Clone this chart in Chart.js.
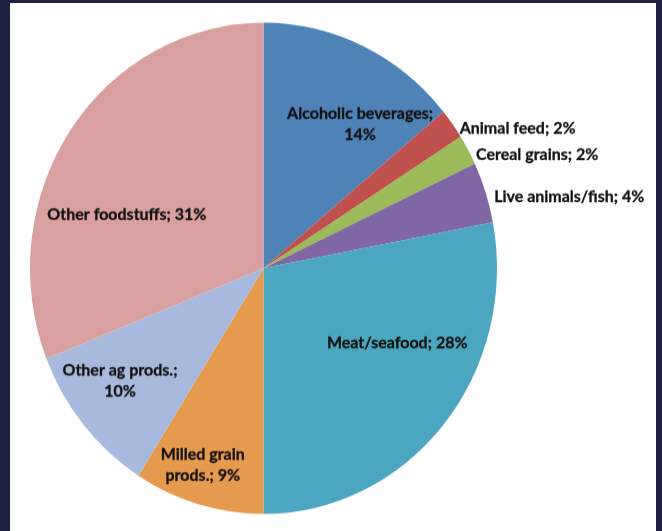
<!DOCTYPE html>
<html>
<head>
<meta charset="utf-8">
<script src="https://cdn.jsdelivr.net/npm/chart.js@4.4.1/dist/chart.umd.min.js"></script>
<style>
  html, body { margin: 0; padding: 0; background: #1e2140; }
  body { width: 662px; height: 531px; position: relative; overflow: hidden; }
  #panel { position: absolute; left: 10px; top: 3px; width: 646px; height: 528px; background: #ffffff; }
  #foodPie { position: absolute; left: 0; top: 0; transform: scaleY(1.052); transform-origin: 0 0; }
</style>
</head>
<body>
<div id="panel"></div>
<canvas id="foodPie" width="662" height="505"></canvas>
<script>
// ------ Data ------
const categories = [
  'Alcoholic beverages', 'Animal feed', 'Cereal grains', 'Live animals/fish',
  'Meat/seafood', 'Milled grain prods.', 'Other ag prods.', 'Other foodstuffs'
];
const shares = [14, 2, 2, 4, 28, 9, 10, 31];
const sliceColors = ['#4f82b6', '#c0504d', '#9bbb59', '#8066a2', '#4ba7bf', '#e69a4e', '#a7badd', '#d8a09f'];

// label placement per slice: inside at a fraction of the radius, or just outside the rim
const labelPlace = [
  { r: 0.72, dx: 25, dy: 15, wrap: 160 },
  { out: true },
  { out: true },
  { out: true },
  { r: 0.66, dx: 15, dy: -27, wrap: 300 },
  { r: 0.84, dx: -6, dy: -2, wrap: 100 },
  { r: 0.77, dx: -5, dy: -8, wrap: 135 },
  { r: 0.64, dx: -13, dy: 33, wrap: 300 }
];

const FONT = 'bold 16px Lato, "Open Sans", sans-serif';
const LINE_H = 20;

function wrapText(ctx, text, maxW) {
  const words = text.split(' ');
  const lines = [];
  let cur = '';
  words.forEach(w => {
    const test = cur ? cur + ' ' + w : w;
    if (cur && ctx.measureText(test).width > maxW) { lines.push(cur); cur = w; }
    else cur = test;
  });
  if (cur) lines.push(cur);
  return lines;
}

function drawText(ctx, s, x, y) {
  ctx.strokeText(s, x, y);
  ctx.fillText(s, x, y);
}

// draws "Name; N%" next to / inside each slice
const sliceLabels = {
  id: 'sliceLabels',
  afterDatasetsDraw(chart) {
    const ctx = chart.ctx;
    const meta = chart.getDatasetMeta(0);
    ctx.save();
    ctx.font = FONT;
    ctx.fillStyle = '#111111';
    ctx.strokeStyle = '#111111';
    ctx.lineWidth = 0.3;
    ctx.textBaseline = 'middle';
    meta.data.forEach((arc, i) => {
      const p = labelPlace[i];
      const mid = (arc.startAngle + arc.endAngle) / 2;
      const text = categories[i] + '; ' + shares[i] + '%';
      if (p.out) {
        ctx.textAlign = 'left';
        const x = arc.x + Math.cos(mid) * (arc.outerRadius + 9);
        const y = arc.y + Math.sin(mid) * arc.outerRadius + 4;
        drawText(ctx, text, x, y);
        return;
      }
      ctx.textAlign = 'center';
      const cx = arc.x + Math.cos(mid) * arc.outerRadius * p.r + p.dx;
      const cy = arc.y + Math.sin(mid) * arc.outerRadius * p.r + p.dy;
      const lines = wrapText(ctx, text, p.wrap);
      const top = cy - (lines.length - 1) * LINE_H / 2;
      lines.forEach((ln, k) => drawText(ctx, ln, cx, top + k * LINE_H));
    });
    ctx.restore();
  }
};

new Chart(document.getElementById('foodPie'), {
  type: 'pie',
  data: {
    labels: categories,
    datasets: [{
      data: shares,
      backgroundColor: sliceColors,
      borderWidth: 0
    }]
  },
  options: {
    responsive: false,
    animation: false,
    layout: { padding: { left: 30, right: 165, top: 21.5, bottom: 16.5 } },
    plugins: { legend: { display: false }, tooltip: { enabled: false } }
  },
  plugins: [sliceLabels]
});
</script>
</body>
</html>
